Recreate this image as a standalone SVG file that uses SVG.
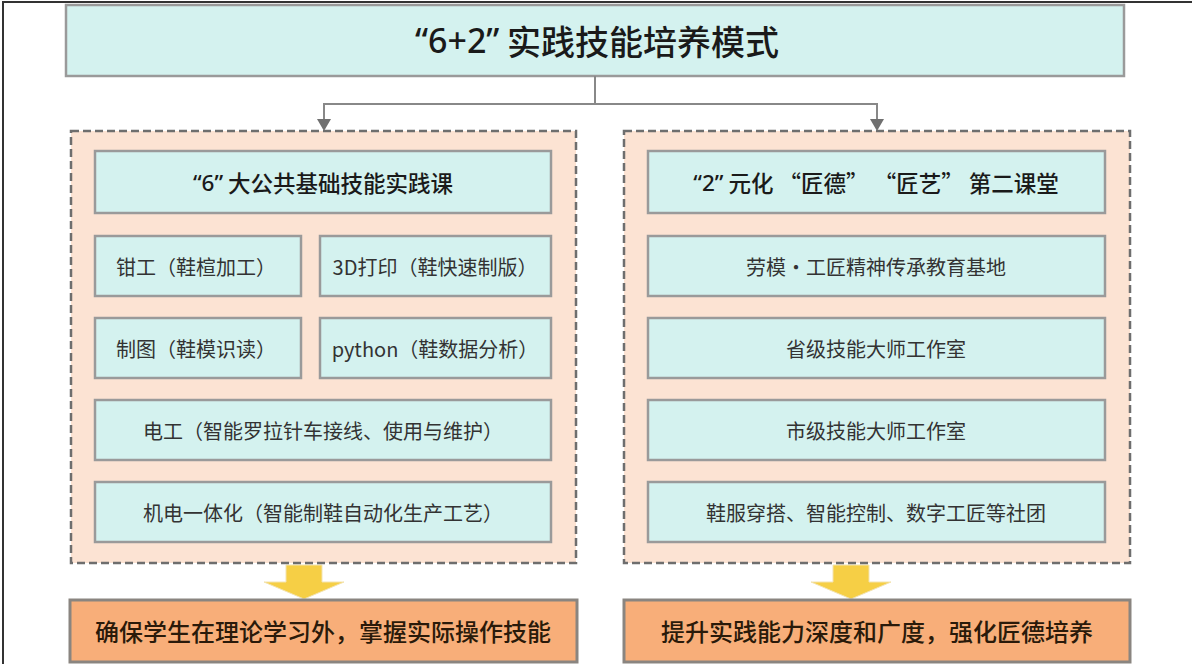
<svg xmlns="http://www.w3.org/2000/svg" width="1192" height="664" viewBox="0 0 1192 664">
<style>
text{font-family:"Noto Sans CJK SC","Noto Sans",sans-serif;text-anchor:middle;dominant-baseline:central}
.lat{font-family:"Noto Sans","Noto Sans CJK SC",sans-serif}
.title{font-size:34px;font-weight:500;fill:#1a1a1a}
.hdr{font-size:22.5px;font-weight:500;fill:#1a1a1a}
.item{font-size:20px;fill:#333}
.res{font-size:24px;font-weight:500;fill:#2a1a0a}
.cyan{fill:#d4f2ef;stroke:#9a9a9a;stroke-width:2.5}
.cont{fill:#fce3d3;stroke:#6e6e6e;stroke-width:2.5;stroke-dasharray:8 4}
.orange{fill:#f8ae79;stroke:#8a8580;stroke-width:3}
.conn{fill:none;stroke:#888;stroke-width:2}
.yarrow{fill:#f6cf45;stroke:#f3e3b0;stroke-width:1}
</style>
<rect x="0" y="0" width="1192" height="664" fill="#fff"/>
<g id="frame">
<line x1="3" y1="2" x2="3" y2="664" stroke="#333" stroke-width="2"/>
<line x1="2" y1="2" x2="1192" y2="2" stroke="#333" stroke-width="2"/>
</g>
<g id="title">
<rect class="cyan" x="66" y="5" width="1058" height="71"/>
<text class="title" x="597" y="40"><tspan class="lat">“6+2”</tspan>  实践技能培养模式</text>
</g>
<g id="connectors">
<polyline class="conn" points="595,76 595,104"/>
<polyline class="conn" points="324,121 324,104 877,104 877,121"/>
<path d="M317,119 L331,119 L324,131 Z" fill="#707070"/>
<path d="M870,119 L884,119 L877,131 Z" fill="#707070"/>
<path class="yarrow" d="M286,565 L322,565 L322,582 L344,582 L304,599 L264,582 L286,582 Z"/>
<path class="yarrow" d="M833,565 L869,565 L869,582 L891,582 L851,599 L811,582 L833,582 Z"/>
</g>
<g id="left-group">
<rect class="cont" x="71" y="131" width="505" height="432"/>
</g>
<g id="right-group">
<rect class="cont" x="624" y="131" width="506" height="432"/>
</g>
<g id="left-header">
<rect class="cyan" x="95" y="151" width="456" height="62"/>
<text class="hdr" x="323" y="182"><tspan class="lat">“6”</tspan> 大公共基础技能实践课</text>
</g>
<g id="qiangong">
<rect class="cyan" x="95" y="236" width="206" height="60"/>
<text class="item" x="196" y="266">钳工（鞋楦加工）</text>
</g>
<g id="print3d">
<rect class="cyan" x="320" y="236" width="231" height="60"/>
<text class="item" x="435" y="266">3D打印（鞋快速制版）</text>
</g>
<g id="zhitu">
<rect class="cyan" x="95" y="318" width="206" height="60"/>
<text class="item" x="196" y="348">制图（鞋模识读）</text>
</g>
<g id="python">
<rect class="cyan" x="320" y="318" width="231" height="60"/>
<text class="item" x="435" y="348">python（鞋数据分析）</text>
</g>
<g id="diangong">
<rect class="cyan" x="95" y="400" width="456" height="60"/>
<text class="item" x="323" y="430">电工（智能罗拉针车接线、使用与维护）</text>
</g>
<g id="jidian">
<rect class="cyan" x="95" y="482" width="456" height="60"/>
<text class="item" x="323" y="512">机电一体化（智能制鞋自动化生产工艺）</text>
</g>
<g id="right-header">
<rect class="cyan" x="648" y="151" width="457" height="62"/>
<text class="hdr" x="876" y="182"><tspan class="lat">“2”</tspan> 元化 “匠德” “匠艺” 第二课堂</text>
</g>
<g id="laomo">
<rect class="cyan" x="648" y="236" width="457" height="60"/>
<text class="item" x="876" y="266">劳模·工匠精神传承教育基地</text>
</g>
<g id="shengji">
<rect class="cyan" x="648" y="318" width="457" height="60"/>
<text class="item" x="876" y="348">省级技能大师工作室</text>
</g>
<g id="shiji">
<rect class="cyan" x="648" y="400" width="457" height="60"/>
<text class="item" x="876" y="430">市级技能大师工作室</text>
</g>
<g id="shetuan">
<rect class="cyan" x="648" y="482" width="457" height="60"/>
<text class="item" x="876" y="512">鞋服穿搭、智能控制、数字工匠等社团</text>
</g>
<g id="left-result">
<rect class="orange" x="70" y="600" width="507" height="62"/>
<text class="res" x="323" y="630">确保学生在理论学习外，掌握实际操作技能</text>
</g>
<g id="right-result">
<rect class="orange" x="624" y="600" width="506" height="62"/>
<text class="res" x="877" y="630">提升实践能力深度和广度，强化匠德培养</text>
</g>
</svg>
